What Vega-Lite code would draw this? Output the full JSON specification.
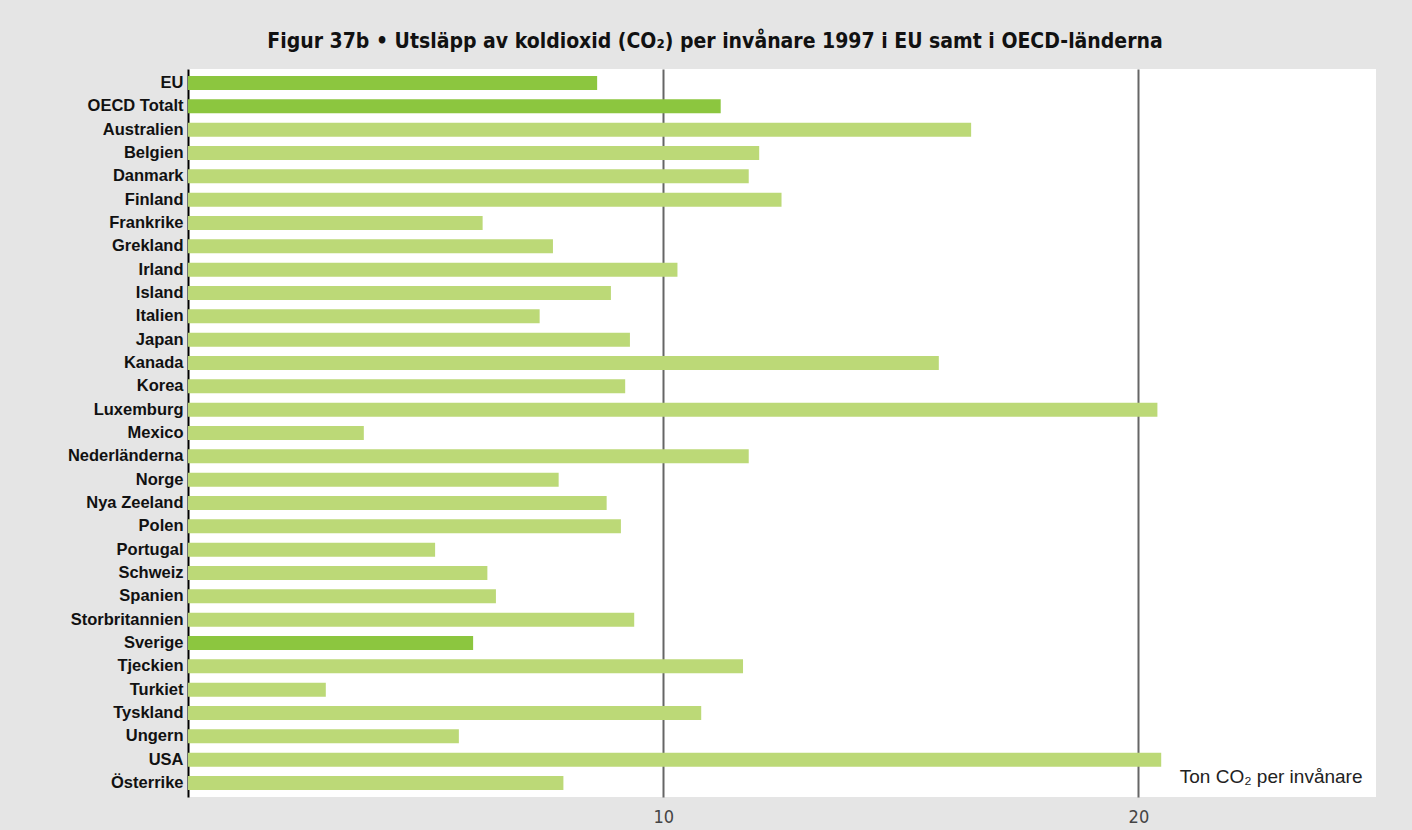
{
  "$schema": "https://vega.github.io/schema/vega-lite/v6.json",
  "width": 1188,
  "height": 728,
  "autosize": {"type": "none"},
  "padding": {"left": 188, "top": 69, "right": 36, "bottom": 33},
  "background": "#e5e5e5",
  "title": {
    "text": "Figur 37b • Utsläpp av koldioxid (CO₂) per invånare 1997 i EU samt i OECD-länderna",
    "font": "DejaVu Sans Condensed",
    "fontSize": 21,
    "fontWeight": "bold",
    "color": "#111111",
    "anchor": "middle",
    "dx": -67,
    "offset": 17
  },
  "config": {
    "view": {"fill": "white", "stroke": null}
  },
  "data": {
    "values": [
      {"land": "EU", "ton": 8.61, "markerad": "ja"},
      {"land": "OECD Totalt", "ton": 11.21, "markerad": "ja"},
      {"land": "Australien", "ton": 16.48, "markerad": "nej"},
      {"land": "Belgien", "ton": 12.02, "markerad": "nej"},
      {"land": "Danmark", "ton": 11.8, "markerad": "nej"},
      {"land": "Finland", "ton": 12.49, "markerad": "nej"},
      {"land": "Frankrike", "ton": 6.2, "markerad": "nej"},
      {"land": "Grekland", "ton": 7.68, "markerad": "nej"},
      {"land": "Irland", "ton": 10.3, "markerad": "nej"},
      {"land": "Island", "ton": 8.9, "markerad": "nej"},
      {"land": "Italien", "ton": 7.4, "markerad": "nej"},
      {"land": "Japan", "ton": 9.3, "markerad": "nej"},
      {"land": "Kanada", "ton": 15.8, "markerad": "nej"},
      {"land": "Korea", "ton": 9.2, "markerad": "nej"},
      {"land": "Luxemburg", "ton": 20.4, "markerad": "nej"},
      {"land": "Mexico", "ton": 3.7, "markerad": "nej"},
      {"land": "Nederländerna", "ton": 11.8, "markerad": "nej"},
      {"land": "Norge", "ton": 7.8, "markerad": "nej"},
      {"land": "Nya Zeeland", "ton": 8.81, "markerad": "nej"},
      {"land": "Polen", "ton": 9.11, "markerad": "nej"},
      {"land": "Portugal", "ton": 5.2, "markerad": "nej"},
      {"land": "Schweiz", "ton": 6.3, "markerad": "nej"},
      {"land": "Spanien", "ton": 6.48, "markerad": "nej"},
      {"land": "Storbritannien", "ton": 9.39, "markerad": "nej"},
      {"land": "Sverige", "ton": 6.0, "markerad": "ja"},
      {"land": "Tjeckien", "ton": 11.68, "markerad": "nej"},
      {"land": "Turkiet", "ton": 2.9, "markerad": "nej"},
      {"land": "Tyskland", "ton": 10.8, "markerad": "nej"},
      {"land": "Ungern", "ton": 5.7, "markerad": "nej"},
      {"land": "USA", "ton": 20.48, "markerad": "nej"},
      {"land": "Österrike", "ton": 7.9, "markerad": "nej"}
    ]
  },
  "mark": {"type": "bar"},
  "encoding": {
    "y": {
      "field": "land",
      "type": "nominal",
      "sort": null,
      "scale": {"paddingInner": 0.4, "paddingOuter": 0.3},
      "axis": {
        "title": null,
        "domain": true,
        "domainColor": "#000000",
        "domainWidth": 2,
        "ticks": false,
        "grid": false,
        "labelPadding": 5,
        "labelFont": "Liberation Sans",
        "labelFontSize": 16.5,
        "labelFontWeight": "bold",
        "labelColor": "#111111"
      }
    },
    "x": {
      "field": "ton",
      "type": "quantitative",
      "scale": {"domain": [0, 25], "nice": false},
      "axis": {
        "values": [10, 20],
        "domain": false,
        "ticks": false,
        "grid": true,
        "gridColor": "#666666",
        "gridWidth": 2,
        "labelPadding": 11,
        "labelFont": "DejaVu Sans Condensed",
        "labelFontSize": 18,
        "labelColor": "#444444",
        "title": "Ton CO₂ per invånare",
        "titleFont": "Liberation Sans",
        "titleFontSize": 19,
        "titleFontWeight": "normal",
        "titleColor": "#222222",
        "titleAlign": "right",
        "titleAnchor": null,
        "titleBaseline": "alphabetic",
        "titleX": 1174,
        "titleY": -15
      }
    },
    "color": {
      "field": "markerad",
      "type": "nominal",
      "scale": {"domain": ["ja", "nej"], "range": ["#8cc63f", "#bcd977"]},
      "legend": null
    }
  }
}
